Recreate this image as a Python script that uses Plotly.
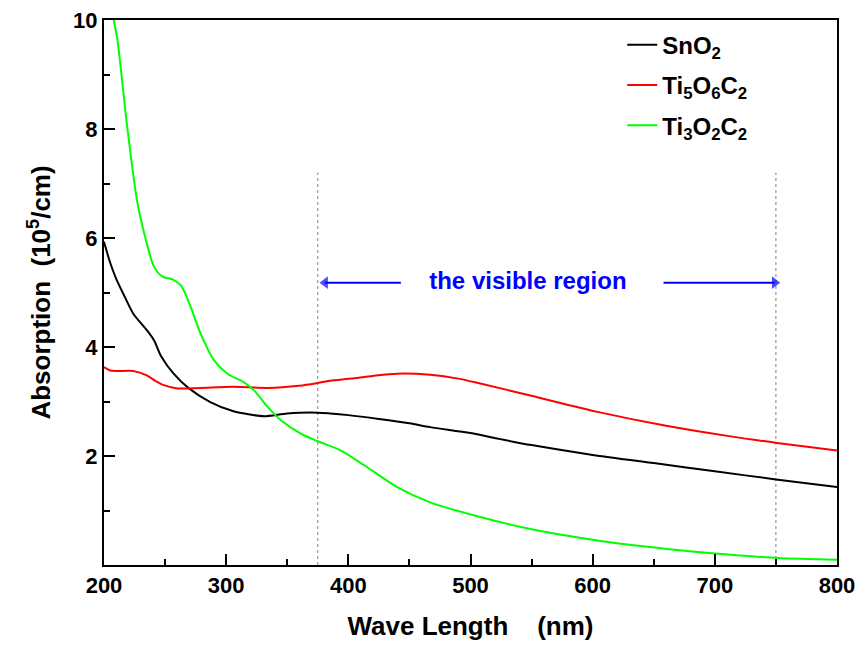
import plotly.graph_objects as go

# Absorption spectra (10^5 /cm) versus wavelength (nm)
wl_sno2 = [200, 205, 210, 217, 224, 235, 241, 247, 257, 269, 287, 306, 320, 331,
           350, 369, 385, 400, 425, 450, 467, 500, 522, 550, 600, 650, 700, 750, 800]
abs_sno2 = [5.93, 5.55, 5.25, 4.92, 4.61, 4.31, 4.12, 3.82, 3.51, 3.25, 2.99, 2.82, 2.76, 2.73,
            2.78, 2.80, 2.78, 2.75, 2.68, 2.60, 2.53, 2.42, 2.32, 2.20, 2.02, 1.87, 1.72, 1.57, 1.43]

wl_ti5o6c2 = [200, 205, 211, 224, 235, 242, 249, 260, 279, 306, 334, 360, 375, 385,
              402, 420, 440, 467, 490, 508, 549, 604, 659, 713, 751, 800]
abs_ti5o6c2 = [3.63, 3.57, 3.56, 3.56, 3.48, 3.38, 3.30, 3.24, 3.25, 3.27, 3.25, 3.29, 3.34, 3.38,
               3.42, 3.47, 3.51, 3.49, 3.42, 3.33, 3.11, 2.81, 2.56, 2.36, 2.24, 2.10]

wl_ti3o2c2 = [205, 208, 211, 219, 227, 233, 241, 248, 256, 263, 271, 279, 290, 301, 314, 323,
              334, 345, 361, 375, 394, 413, 440, 467, 508, 549, 604, 659, 713, 752, 800]
abs_ti3o2c2 = [10.4, 10.0, 9.63, 8.04, 6.69, 6.08, 5.47, 5.29, 5.24, 5.13, 4.73, 4.25, 3.76, 3.51, 3.36, 3.20,
               2.90, 2.65, 2.41, 2.27, 2.10, 1.83, 1.43, 1.15, 0.88, 0.66, 0.45, 0.30, 0.19, 0.13, 0.095]

series_names = ["SnO<sub>2</sub>", "Ti<sub>5</sub>O<sub>6</sub>C<sub>2</sub>", "Ti<sub>3</sub>O<sub>2</sub>C<sub>2</sub>"]
series_colors = ["#000000", "#FF0000", "#00FF00"]

x_ticks = [200, 300, 400, 500, 600, 700, 800]
y_ticks = [2, 4, 6, 8, 10]
X_RANGE = [200, 800]
Y_RANGE = [0, 10]

# visible-region boundaries and label
visible_bounds = [375, 750]
visible_top = 7.2
region_label = "the visible region"
region_label_x = 547
region_y = 5.18
arrow_left = [443, 381]     # tail -> head centre
arrow_right = [658, 749]    # tail -> head centre

FONT = "Liberation Sans"


def bold(s):
    return "<b>" + s + "</b>"


fig = go.Figure()

# dotted boundaries of the visible range
for xb in visible_bounds:
    fig.add_trace(go.Scatter(x=[xb, xb], y=[Y_RANGE[0], visible_top], mode="lines",
                             showlegend=False, hoverinfo="skip",
                             line=dict(color="#808080", width=1, dash="dot")))

# spectra
for i, (xs, ys, name, color) in enumerate(zip([wl_sno2, wl_ti5o6c2, wl_ti3o2c2],
                                             [abs_sno2, abs_ti5o6c2, abs_ti3o2c2],
                                             series_names, series_colors)):
    fig.add_trace(go.Scatter(x=xs, y=ys, mode="lines", name=bold(name), legendgroup=str(i),
                             line=dict(color=color, width=2, shape="spline", smoothing=0.8)))

# arrows pointing to the visible-range boundaries
for xs, symbol in [(arrow_left, "triangle-left"), (arrow_right, "triangle-right")]:
    fig.add_trace(go.Scatter(x=xs, y=[region_y, region_y], mode="lines+markers",
                             showlegend=False, hoverinfo="skip",
                             line=dict(color="#0000FF", width=2),
                             marker=dict(symbol=["circle", symbol], size=[0, 11],
                                         color="#0000FF", line=dict(width=0))))

# label of the visible range
fig.add_trace(go.Scatter(x=[region_label_x], y=[region_y], mode="text",
                         text=[bold(region_label)], textposition="middle center",
                         showlegend=False, hoverinfo="skip",
                         textfont=dict(family=FONT, size=24, color="#0000FF")))

axis_common = dict(showline=True, linewidth=2, linecolor="#000000", mirror=True,
                   ticks="inside", ticklen=11, tickwidth=2, tickcolor="#000000",
                   showgrid=False, zeroline=False, automargin=False,
                   tickfont=dict(family=FONT, size=22, color="#000000"))

fig.update_layout(
    template="none",
    width=858, height=648, margin=dict(l=104, r=21, t=20, b=83),
    plot_bgcolor="#FFFFFF", paper_bgcolor="#FFFFFF",
    font=dict(family=FONT, color="#000000"),
    showlegend=True,
    legend=dict(x=0.707, y=0.995, xanchor="left", yanchor="top",
                bgcolor="rgba(0,0,0,0)", borderwidth=0, tracegroupgap=6,
                font=dict(family=FONT, size=24, color="#000000")),
    xaxis=dict(range=X_RANGE, tickmode="array", tickvals=x_ticks,
               ticktext=[bold(str(v)) for v in x_ticks],
               minor=dict(dtick=50, ticks="inside", ticklen=6, tickwidth=2, tickcolor="#000000"),
               title=dict(text=bold("Wave Length\u00a0\u00a0\u00a0\u00a0(nm)"), standoff=19,
                          font=dict(family=FONT, size=26, color="#000000")),
               **axis_common),
    yaxis=dict(range=Y_RANGE, tickmode="array", tickvals=y_ticks,
               ticktext=[bold(str(v)) for v in y_ticks],
               minor=dict(dtick=1, ticks="inside", ticklen=6, tickwidth=2, tickcolor="#000000"),
               title=dict(text=bold("Absorption\u00a0\u00a0(10<sup>5</sup>/cm)"), standoff=15,
                          font=dict(family=FONT, size=26, color="#000000")),
               **axis_common),
)

fig.write_html("out.html")
